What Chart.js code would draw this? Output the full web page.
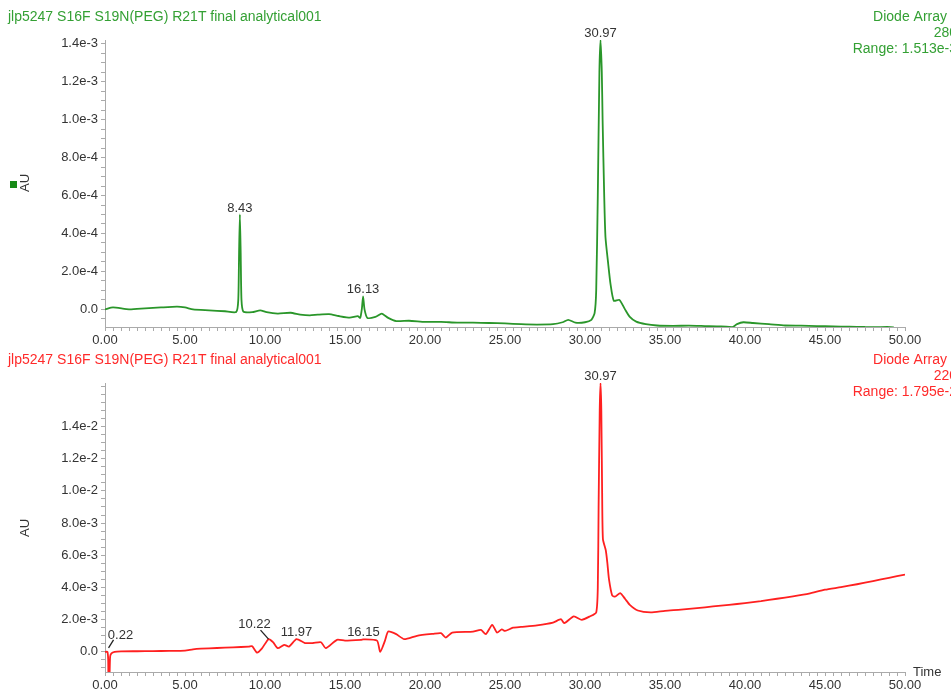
<!DOCTYPE html>
<html>
<head>
<meta charset="utf-8">
<script src="https://cdn.jsdelivr.net/npm/chart.js@4"></script>
<style>
body { margin: 0; width: 951px; height: 693px; overflow: hidden; background: #fff; }
.painel { position: absolute; left: 0; width: 951px; height: 352px; }
</style>
</head>
<body>
<div class="painel" style="top:0"><canvas id="grafico_280" width="951" height="352"></canvas></div>
<div class="painel" style="top:345px"><canvas id="grafico_220" width="951" height="352"></canvas></div>
<script>

const xTicks = [0, 5, 10, 15, 20, 25, 30, 35, 40, 45, 50]

// canal 280 nm
const tempo280 = [0.0, 0.5, 1.5, 2.5, 3.5, 4.5, 5.0, 5.5, 6.5, 7.5, 8.2, 8.33, 8.38, 8.43, 8.48, 8.53, 8.65,
  9.2, 9.7, 10.1, 10.8, 11.6, 12.2, 12.8, 13.3, 14.0, 14.6, 15.3, 15.8, 15.95, 16.05, 16.13, 16.22, 16.4,
  16.9, 17.3, 17.7, 18.2, 19.0, 20.0, 21.0, 22.0, 23.0, 24.0, 25.0, 26.0, 27.0, 28.0, 28.6, 28.95, 29.4,
  30.0, 30.4, 30.6, 30.7, 30.8, 30.9, 30.97, 31.05, 31.1, 31.2, 31.28, 31.45, 31.6, 31.8, 32.15, 32.5,
  32.8, 33.2, 33.8, 34.5, 35.5, 36.5, 37.5, 38.5, 39.2, 39.5, 39.9, 40.5, 41.5, 42.5, 43.5, 44.5, 45.5,
  46.5, 47.5, 48.5, 49.3]
const mAU280 = [0.00, 0.01, 0.00, 0.005, 0.01, 0.014, 0.01, 0.00, -0.005, -0.01, -0.014, 0.05, 0.30, 0.50, 0.30, 0.05, -0.012,
  -0.015, -0.005, -0.015, -0.022, -0.018, -0.028, -0.032, -0.028, -0.025, -0.035, -0.044, -0.036, -0.045, 0.0, 0.068, 0.0, -0.045,
  -0.04, -0.022, -0.045, -0.062, -0.060, -0.066, -0.066, -0.070, -0.070, -0.072, -0.074, -0.078, -0.080, -0.078, -0.068, -0.055, -0.070,
  -0.068, -0.055, -0.02, 0.10, 0.60, 1.25, 1.42, 1.25, 1.00, 0.60, 0.38, 0.24, 0.13, 0.045, 0.05, 0.0,
  -0.04, -0.065, -0.078, -0.085, -0.087, -0.086, -0.088, -0.09, -0.094, -0.078, -0.068, -0.072, -0.078, -0.085, -0.086, -0.088, -0.090,
  -0.091, -0.093, -0.094, -0.095]
const yTicks280 = [0, 0.2, 0.4, 0.6, 0.8, 1.0, 1.2, 1.4]
const picos280 = ['8.43', '16.13', '30.97']
const alturaPicos280 = [0.50, 0.068, 1.42]

// canal 220 nm
const tempo220 = [0.0, 0.15, 0.2, 0.22, 0.27, 0.32, 0.4, 0.6, 1.0, 2.0, 3.0, 4.0, 5.0, 5.5, 6.0, 7.0, 8.0, 9.0, 9.2, 9.5,
  9.8, 10.22, 10.5, 10.8, 11.2, 11.5, 11.97, 12.5, 13.0, 13.5, 13.8, 14.5, 15.0, 16.0, 16.15, 17.0, 17.2, 17.5, 17.7,
  18.2, 18.7, 19.5, 20.5, 21.0, 21.3, 21.7, 23.0, 23.5, 23.8, 24.2, 24.5, 24.8, 25.0, 25.5, 26.0, 27.0, 28.0, 28.5,
  28.7, 29.3, 29.8, 30.3, 30.7, 30.8, 30.85, 30.92, 30.97, 31.02, 31.07, 31.12, 31.3, 31.4, 31.5, 31.7, 31.9, 32.2,
  32.5, 32.8, 33.3, 34.1, 35.0, 36.0, 37.0, 38.0, 39.0, 40.0, 41.0, 42.0, 43.0, 44.0, 45.0, 46.0, 47.0, 48.0, 49.0, 50.0]
const mAU220 = [0.0, 0.0, -0.5, -2.0, -2.0, -0.3, -0.1, 0.0, 0.03, 0.04, 0.05, 0.06, 0.08, 0.16, 0.2, 0.24, 0.28, 0.33, 0.35, -0.04,
  0.2, 0.79, 0.6, 0.23, 0.44, 0.33, 0.79, 0.55, 0.55, 0.6, 0.23, 0.75, 0.70, 0.75, 0.78, 0.70, 0.0, 0.7, 1.26,
  1.1, 0.79, 1.0, 1.12, 1.16, 0.89, 1.2, 1.26, 1.37, 1.1, 1.68, 1.2, 1.4, 1.3, 1.5, 1.55, 1.65, 1.82, 2.03,
  1.78, 2.2, 1.99, 2.2, 2.45, 4.0, 9.0, 15.0, 16.7, 15.0, 10.0, 7.0, 6.3, 5.5, 4.5, 3.5, 3.44, 3.65,
  3.3, 2.92, 2.57, 2.45, 2.55, 2.62, 2.72, 2.82, 2.92, 3.03, 3.15, 3.3, 3.45, 3.62, 3.86, 4.02, 4.2, 4.4, 4.6, 4.8]
const yTicks220 = [0, 2, 4, 6, 8, 10, 12, 14]
const picos220 = ['0.22', '10.22', '11.97', '16.15', '30.97']
const alturaPicos220 = [0.0, 0.79, 0.79, 0.78, 16.7]

const fonte = '"Liberation Sans", Arial, sans-serif'

// deslocamento dos rótulos com linha de chamada
const chamadas = {
  '0.22': { dx: 12, dy: -13, linha: [0, -4, 5, -12] },
  '10.22': { dx: -14, dy: -11, linha: [0, 0, -8, -9] }
}

function pontos(t, v) {
  return t.map((x, i) => ({ x: x, y: v[i] * 1e-3 }))
}

function rotuloY(valor) {
  if (Math.abs(valor) < 1e-12) return '0.0'
  return valor.toExponential(1)
}

const textos = {
  id: 'textos',
  afterDraw(chart, args, o) {
    const ctx = chart.ctx
    const x = chart.scales.x
    const y = chart.scales.y
    ctx.save()
    ctx.font = '14px ' + fonte
    ctx.fillStyle = o.cor
    ctx.textBaseline = 'middle'
    ctx.textAlign = 'left'
    ctx.fillText(o.titulo, 8, o.topo)
    ctx.textAlign = 'right'
    ctx.fillText('Diode Array', 947, o.topo)
    ctx.fillText(o.canal, 957, o.topo + 16)
    ctx.fillText(o.range, 957, o.topo + 32)

    // título do eixo Y
    ctx.font = '13px ' + fonte
    ctx.fillStyle = '#333'
    ctx.save()
    ctx.translate(25, 183)
    ctx.rotate(-Math.PI / 2)
    ctx.textAlign = 'center'
    ctx.fillText('AU', 0, 0)
    ctx.restore()
    if (o.marcador) {
      ctx.fillStyle = o.marcador
      ctx.fillRect(10, 181, 7, 7)
    }
    if (o.tempo) {
      ctx.fillStyle = '#333'
      ctx.textAlign = 'left'
      ctx.fillText('Time', 913, 327)
    }

    // rótulos dos picos
    ctx.fillStyle = '#333'
    ctx.strokeStyle = '#222'
    ctx.lineWidth = 1.3
    ctx.textAlign = 'center'
    ctx.textBaseline = 'alphabetic'
    o.picos.forEach((p, i) => {
      const px = x.getPixelForValue(parseFloat(p))
      const py = Math.max(y.getPixelForValue(o.alturas[i] * 1e-3), chart.chartArea.top)
      const c = chamadas[p]
      if (o.chamadas && c) {
        ctx.beginPath()
        ctx.moveTo(px + c.linha[0], py + c.linha[1])
        ctx.lineTo(px + c.linha[2], py + c.linha[3])
        ctx.stroke()
        ctx.fillText(p, px + c.dx, py + c.dy)
      } else {
        ctx.fillText(p, px, py - 3)
      }
    })
    ctx.restore()
  }
}

function eixos(yMin, yMax, yMaior, yMenor) {
  const maiores = yMaior.map(v => v * 1e-3)
  return {
    x: {
      type: 'linear',
      min: 0,
      max: 50,
      afterFit: s => { s.height = 25 },
      afterBuildTicks: s => {
        const t = []
        for (let i = 0; i <= 100; i++) t.push({ value: i * 0.5 })
        s.ticks = t
      },
      ticks: {
        autoSkip: false,
        maxRotation: 0,
        padding: 2,
        color: '#333',
        font: { size: 13, family: fonte },
        callback: v => xTicks.includes(v) ? v.toFixed(2) : ''
      },
      grid: { drawOnChartArea: false, tickLength: 4, tickColor: '#aaa' },
      border: { color: '#aaa' }
    },
    y: {
      min: yMin * 1e-3,
      max: yMax * 1e-3,
      afterFit: s => { s.width = 105 },
      afterBuildTicks: s => {
        const t = []
        const n0 = Math.ceil(yMin / yMenor)
        const n1 = Math.floor(yMax / yMenor)
        for (let i = n0; i <= n1; i++) t.push({ value: i * yMenor * 1e-3 })
        s.ticks = t
      },
      ticks: {
        autoSkip: false,
        padding: 3,
        color: '#333',
        font: { size: 13, family: fonte },
        callback: v => maiores.some(m => Math.abs(m - v) < 1e-9) ? rotuloY(v) : ''
      },
      grid: { drawOnChartArea: false, tickLength: 4, tickColor: '#aaa' },
      border: { color: '#aaa' }
    }
  }
}

const config280 = {
  type: 'line',
  data: {
    datasets: [{
      data: pontos(tempo280, mAU280),
      borderColor: '#2a962a',
      borderWidth: 1.8,
      pointRadius: 0,
      tension: 0.2
    }]
  },
  options: {
    responsive: false,
    animation: false,
    layout: { padding: { top: 40, right: 46, left: 0, bottom: 0 } },
    scales: eixos(-0.093, 1.42, yTicks280, 0.05),
    plugins: {
      legend: { display: false },
      tooltip: { enabled: false },
      textos: {
        cor: '#34a034',
        topo: 17,
        titulo: 'jlp5247 S16F S19N(PEG) R21T final analytical001',
        canal: '280',
        range: 'Range: 1.513e-3',
        marcador: '#178a17',
        picos: picos280,
        alturas: alturaPicos280
      }
    }
  },
  plugins: [textos]
}

const config220 = {
  type: 'line',
  data: {
    datasets: [{
      data: pontos(tempo220, mAU220),
      borderColor: '#ff2020',
      borderWidth: 1.8,
      pointRadius: 0,
      tension: 0.2
    }]
  },
  options: {
    responsive: false,
    animation: false,
    layout: { padding: { top: 38, right: 46, left: 0, bottom: 0 } },
    scales: eixos(-1.25, 16.7, yTicks220, 0.5),
    plugins: {
      legend: { display: false },
      tooltip: { enabled: false },
      textos: {
        cor: '#ff2a2a',
        topo: 15,
        titulo: 'jlp5247 S16F S19N(PEG) R21T final analytical001',
        canal: '220',
        range: 'Range: 1.795e-2',
        tempo: true,
        chamadas: true,
        picos: picos220,
        alturas: alturaPicos220
      }
    }
  },
  plugins: [textos]
}

new Chart(document.getElementById('grafico_280'), config280)
new Chart(document.getElementById('grafico_220'), config220)
</script>
</body>
</html>
